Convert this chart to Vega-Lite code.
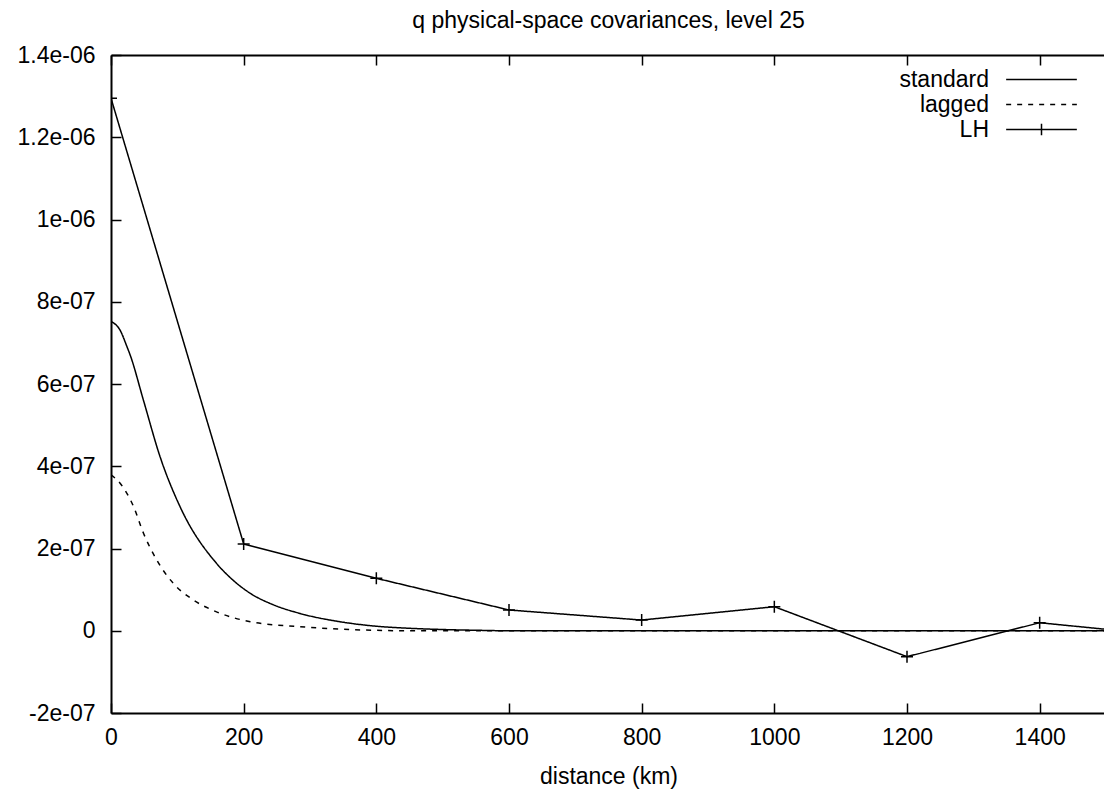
{
  "$schema": "https://vega.github.io/schema/vega-lite/v6.json",
  "autosize": {"type": "none"},
  "padding": {"left": 111, "top": 55, "right": 0, "bottom": 80},
  "width": 995,
  "height": 658,
  "background": "white",
  "title": {
    "text": "q physical-space covariances, level 25",
    "font": "Liberation Sans",
    "fontSize": 23,
    "fontWeight": "normal",
    "color": "black",
    "anchor": "middle",
    "frame": "group",
    "baseline": "alphabetic",
    "offset": -7
  },
  "config": {
    "view": {"stroke": null},
    "axis": {
      "labelFont": "Liberation Sans",
      "labelFontSize": 23,
      "labelColor": "black",
      "titleFont": "Liberation Sans",
      "titleFontSize": 23,
      "titleFontWeight": "normal",
      "titleColor": "black",
      "domainColor": "black",
      "domainWidth": 2,
      "tickColor": "black",
      "tickWidth": 1.5,
      "grid": false,
      "labelFlush": false,
      "labelOverlap": false
    }
  },
  "datasets": {
    "curves": [
      {"km": 0, "cov": 7.52e-7, "series": "standard"},
      {"km": 14, "cov": 7.30e-7, "series": "standard"},
      {"km": 24, "cov": 6.91e-7, "series": "standard"},
      {"km": 29, "cov": 6.70e-7, "series": "standard"},
      {"km": 49, "cov": 5.60e-7, "series": "standard"},
      {"km": 74, "cov": 4.23e-7, "series": "standard"},
      {"km": 104, "cov": 3.02e-7, "series": "standard"},
      {"km": 159, "cov": 1.64e-7, "series": "standard"},
      {"km": 184, "cov": 1.23e-7, "series": "standard"},
      {"km": 210, "cov": 9.1e-8, "series": "standard"},
      {"km": 245, "cov": 6.3e-8, "series": "standard"},
      {"km": 285, "cov": 4.2e-8, "series": "standard"},
      {"km": 345, "cov": 2.2e-8, "series": "standard"},
      {"km": 400, "cov": 1.1e-8, "series": "standard"},
      {"km": 450, "cov": 6e-9, "series": "standard"},
      {"km": 500, "cov": 3e-9, "series": "standard"},
      {"km": 550, "cov": 1.2e-9, "series": "standard"},
      {"km": 600, "cov": 0, "series": "standard"},
      {"km": 1500, "cov": 0, "series": "standard"},
      {"km": 0, "cov": 3.79e-7, "series": "lagged"},
      {"km": 14, "cov": 3.58e-7, "series": "lagged"},
      {"km": 34, "cov": 3.02e-7, "series": "lagged"},
      {"km": 49, "cov": 2.37e-7, "series": "lagged"},
      {"km": 69, "cov": 1.72e-7, "series": "lagged"},
      {"km": 94, "cov": 1.15e-7, "series": "lagged"},
      {"km": 124, "cov": 7.5e-8, "series": "lagged"},
      {"km": 159, "cov": 4.6e-8, "series": "lagged"},
      {"km": 210, "cov": 2.2e-8, "series": "lagged"},
      {"km": 285, "cov": 1.0e-8, "series": "lagged"},
      {"km": 350, "cov": 3.5e-9, "series": "lagged"},
      {"km": 400, "cov": 1e-9, "series": "lagged"},
      {"km": 450, "cov": 0, "series": "lagged"},
      {"km": 1500, "cov": 0, "series": "lagged"},
      {"km": 0, "cov": 1.295e-6, "series": "LH"},
      {"km": 200, "cov": 2.11e-7, "series": "LH"},
      {"km": 400, "cov": 1.275e-7, "series": "LH"},
      {"km": 600, "cov": 5.05e-8, "series": "LH"},
      {"km": 800, "cov": 2.6e-8, "series": "LH"},
      {"km": 1000, "cov": 5.85e-8, "series": "LH"},
      {"km": 1200, "cov": -6.3e-8, "series": "LH"},
      {"km": 1400, "cov": 1.95e-8, "series": "LH"},
      {"km": 1600, "cov": -1.25e-8, "series": "LH"}
    ]
  },
  "resolve": {"axis": {"x": "independent", "y": "independent"}},
  "layer": [
    {
      "data": {"name": "curves"},
      "transform": [{"filter": "datum.series !== 'LH'"}],
      "mark": {"type": "line", "color": "black", "strokeWidth": 1.5, "clip": true, "interpolate": "monotone"},
      "encoding": {
        "x": {
          "field": "km", "type": "quantitative",
          "scale": {"domain": [0, 1500], "nice": false, "zero": false},
          "axis": {
            "orient": "bottom",
            "values": [0, 200, 400, 600, 800, 1000, 1200, 1400],
            "format": "d",
            "tickSize": -10,
            "labelPadding": 23,
            "title": "distance (km)",
            "titleY": 70,
            "titleBaseline": "alphabetic"
          }
        },
        "y": {
          "field": "cov", "type": "quantitative",
          "scale": {"domain": [-2e-7, 1.4e-6], "nice": false, "zero": false},
          "axis": {
            "orient": "left",
            "values": [-2e-7, 0, 2e-7, 4e-7, 6e-7, 8e-7, 1e-6, 1.2e-6, 1.4e-6],
            "tickSize": -10,
            "labelPadding": 26,
            "title": null,
            "labelExpr": "datum.value == 0 ? '0' : (datum.value < 0 ? '-' : '') + format(abs(datum.value) / pow(10, floor(log(abs(datum.value)) / LN10 + 1e-9)), '.2~f') + 'e-0' + (-floor(log(abs(datum.value)) / LN10 + 1e-9))"
          }
        },
        "strokeDash": {
          "field": "series", "type": "nominal",
          "scale": {"domain": ["standard", "lagged", "LH"], "range": [[1, 0], [5, 6], [1, 0]]},
          "legend": {
            "title": null,
            "orient": "none",
            "legendX": 919,
            "legendY": 13,
            "padding": 0,
            "symbolType": "M-5,0H5",
            "symbolSize": 200,
            "symbolStrokeWidth": 1.5,
            "symbolStrokeColor": "black",
            "symbolFillColor": "transparent",
            "labelFont": "Liberation Sans",
            "labelFontSize": 23,
            "labelColor": "black",
            "labelAlign": "right",
            "labelOffset": -64,
            "rowPadding": 1,
            "encode": {
              "symbols": {
                "update": {
                  "shape": {"signal": "datum.value === 'LH' ? 'M-5,0H5M0,-0.8V0.8' : 'M-5,0H5'"}
                }
              }
            }
          }
        }
      }
    },
    {
      "data": {"name": "curves"},
      "transform": [{"filter": "datum.series === 'LH'"}],
      "mark": {"type": "line", "color": "black", "strokeWidth": 1.5, "clip": true},
      "encoding": {
        "x": {"field": "km", "type": "quantitative", "axis": null},
        "y": {"field": "cov", "type": "quantitative", "axis": null},
        "strokeDash": {"field": "series", "type": "nominal"}
      }
    },
    {
      "data": {"name": "curves"},
      "transform": [{"filter": "datum.series === 'LH'"}],
      "mark": {"type": "point", "shape": "M-1,0H1M0,-1V1", "filled": false, "stroke": "black", "strokeWidth": 1.5, "size": 144, "opacity": 1, "clip": true},
      "encoding": {
        "x": {
          "field": "km", "type": "quantitative",
          "axis": {
            "orient": "top",
            "values": [0, 200, 400, 600, 800, 1000, 1200, 1400],
            "tickSize": -10,
            "labels": false,
            "title": null
          }
        },
        "y": {"field": "cov", "type": "quantitative", "axis": null}
      }
    }
  ]
}
